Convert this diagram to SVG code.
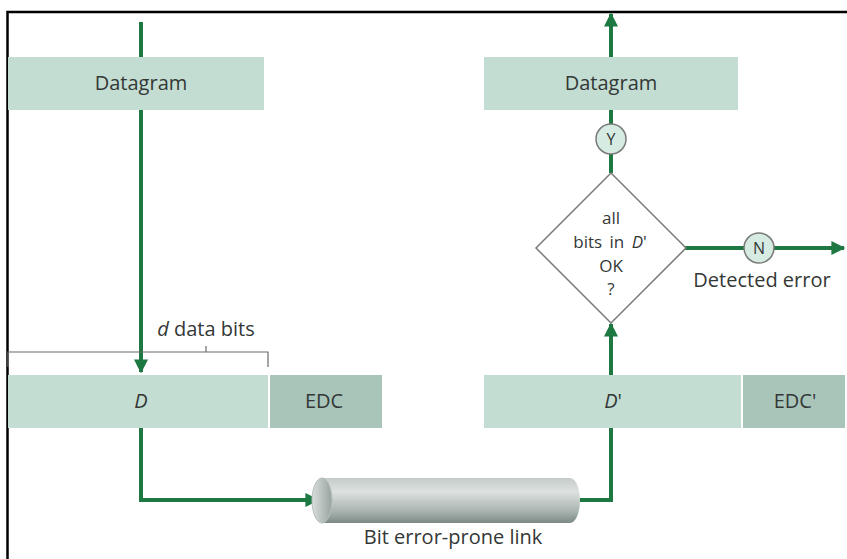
<svg xmlns="http://www.w3.org/2000/svg" width="847" height="559" viewBox="0 0 847 559">
<style>
.box{fill:#c3ddd3}
.dark{fill:#a9c5ba}
.t{font-family:"Open Sans","Noto Sans",sans-serif;font-size:20px;fill:#333836;text-anchor:middle}
.s{font-size:17px}
.c{font-size:16px}
.i{font-style:italic}
.g{stroke:#1d7842;stroke-width:4;fill:none}
.circ{fill:#d6ebe2;stroke:#7a7a7a;stroke-width:1.5}
</style>
<defs>
<marker id="ah" viewBox="0 0 10 10" refX="9" refY="5" markerWidth="3.5" markerHeight="3.5" orient="auto" markerUnits="strokeWidth">
<path d="M0,0 L10,5 L0,10 z" fill="#1d7842"/>
</marker>
<linearGradient id="cyl" x1="0" y1="0" x2="0" y2="1">
<stop offset="0" stop-color="#c4cbc8"/>
<stop offset="0.3" stop-color="#dde2e0"/>
<stop offset="0.75" stop-color="#a7b2ad"/>
<stop offset="1" stop-color="#7c8a85"/>
</linearGradient>
<linearGradient id="face" x1="0" y1="0" x2="1" y2="0">
<stop offset="0" stop-color="#d9dedc"/>
<stop offset="1" stop-color="#97a39e"/>
</linearGradient>
</defs>
<g id="frame" stroke="#000" stroke-width="2.5" fill="none">
<path d="M7.5,559 V12 H847"/>
</g>
<g id="connectors">
<path class="g" d="M141,22 V57"/>
<path class="g" d="M141,110 V372" marker-end="url(#ah)"/>
<path class="g" d="M141,427 V500 H318" marker-end="url(#ah)"/>
<path class="g" d="M580,500 H611 V427"/>
<path class="g" d="M611,375 V324" marker-end="url(#ah)"/>
<path class="g" d="M611,173 V154"/>
<path class="g" d="M611,124 V110"/>
<path class="g" d="M611,57 V14" marker-end="url(#ah)"/>
<path class="g" d="M685,248 H744"/>
<path class="g" d="M774,248 H844" marker-end="url(#ah)"/>
</g>
<g id="datagram-left">
<rect class="box" x="8" y="57" width="256" height="53"/>
<text class="t" x="141" y="90">Datagram</text>
</g>
<g id="datagram-right">
<rect class="box" x="484" y="57" width="254" height="53"/>
<text class="t" x="611" y="90">Datagram</text>
</g>
<g id="y-circle">
<circle class="circ" cx="611" cy="139" r="15"/>
<text class="t c" x="611" y="145">Y</text>
</g>
<g id="decision">
<polygon points="611,173 686,248 611,323 536,248" fill="#fff" stroke="#7a7a7a" stroke-width="1.5"/>
<text class="t s" x="611" y="224">all</text>
<text class="t s" x="610" y="248" word-spacing="3">bits in <tspan class="i">D</tspan>'</text>
<text class="t s" x="611" y="271.5">OK</text>
<text class="t s" x="611" y="295">?</text>
</g>
<g id="n-circle">
<circle class="circ" cx="759" cy="248" r="15"/>
<text class="t c" x="759" y="254">N</text>
<text class="t" x="762" y="287">Detected error</text>
</g>
<g id="bracket" stroke="#6a6a6a" stroke-width="1.2" fill="none">
<path d="M8,367 V352 H268 V367"/>
<path d="M206,352 V346"/>
</g>
<text class="t" x="206" y="336"><tspan class="i">d</tspan> data bits</text>
<g id="frame-d">
<rect class="box" x="8" y="375" width="260" height="53"/>
<text class="t i" x="141" y="408">D</text>
</g>
<g id="edc">
<rect class="dark" x="270" y="375" width="112" height="53"/>
<text class="t" x="324" y="408">EDC</text>
</g>
<g id="frame-d-prime">
<rect class="box" x="484" y="375" width="257" height="53"/>
<text class="t" x="613" y="408"><tspan class="i">D</tspan>'</text>
</g>
<g id="edc-prime">
<rect class="dark" x="743" y="375" width="102" height="53"/>
<text class="t" x="795" y="408">EDC'</text>
</g>
<g id="link">
<path d="M322,478 H570 A10,22.5 0 0 1 570,523 H322 Z" fill="url(#cyl)"/>
<ellipse cx="322" cy="500.5" rx="10" ry="22.5" fill="url(#face)" stroke="#b8c0bd" stroke-width="1"/>
<text class="t" x="453" y="544">Bit error-prone link</text>
</g>
</svg>
